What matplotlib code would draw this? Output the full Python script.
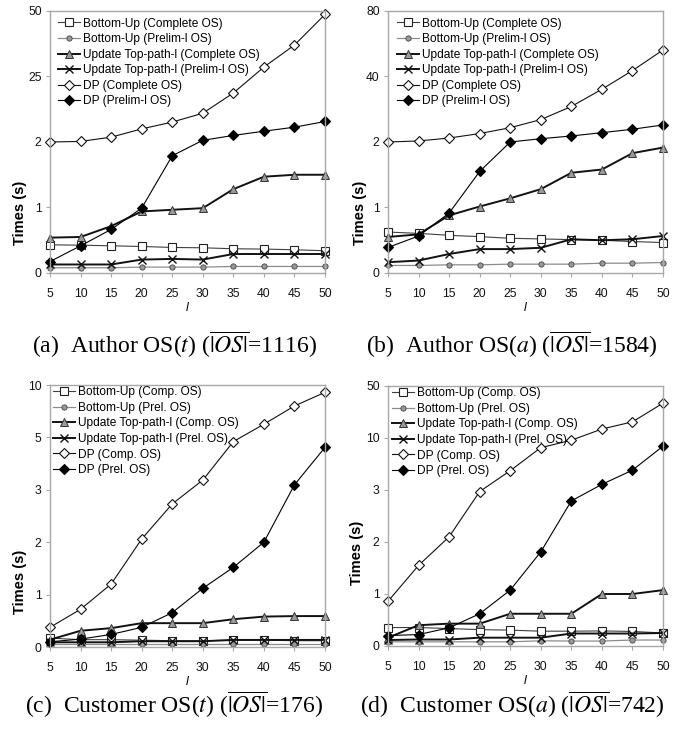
import numpy as np
import matplotlib
matplotlib.use("Agg")
import matplotlib.pyplot as plt  # noqa: E402
from matplotlib.ticker import NullLocator  # noqa: E402

plt.rcParams["font.family"] = ["Liberation Sans", "DejaVu Sans"]
plt.rcParams["mathtext.fontset"] = "stix"

L = [5, 10, 15, 20, 25, 30, 35, 40, 45, 50]

# (a) Author OS(t)
a_bu_comp = [0.43, 0.425, 0.415, 0.405, 0.39, 0.385, 0.37, 0.365, 0.355, 0.34]
a_bu_prel = [0.08, 0.08, 0.08, 0.09, 0.09, 0.09, 0.10, 0.10, 0.10, 0.10]
a_up_comp = [0.54, 0.55, 0.715, 0.94, 0.965, 0.99, 1.28, 1.47, 1.5, 1.5]
a_up_prel = [0.13, 0.13, 0.13, 0.205, 0.215, 0.205, 0.29, 0.29, 0.29, 0.29]
a_dp_comp = [2.0, 2.2, 3.7, 6.6, 9.0, 12.1, 19.2, 28.6, 37.0, 48.7]
a_dp_prel = [0.175, 0.415, 0.665, 0.99, 1.79, 2.6, 4.3, 5.8, 7.2, 9.2]

# (b) Author OS(a)
b_bu_comp = [0.625, 0.605, 0.575, 0.555, 0.53, 0.52, 0.51, 0.5, 0.48, 0.465]
b_bu_prel = [0.115, 0.115, 0.125, 0.125, 0.135, 0.135, 0.135, 0.15, 0.15, 0.16]
b_up_comp = [0.55, 0.59, 0.88, 1.015, 1.14, 1.28, 1.53, 1.58, 1.83, 1.915]
b_up_prel = [0.165, 0.19, 0.29, 0.365, 0.365, 0.385, 0.515, 0.5, 0.515, 0.565]
b_dp_comp = [2.0, 2.6, 4.3, 6.9, 10.3, 15.0, 22.6, 32.6, 43.6, 56.2]
b_dp_prel = [0.39, 0.565, 0.915, 1.55, 2.0, 3.9, 5.5, 7.4, 9.4, 11.9]

# (c) Customer OS(t)
c_bu_comp = [0.17, 0.14, 0.14, 0.13, 0.12, 0.12, 0.13, 0.13, 0.12, 0.12]
c_bu_prel = [0.05, 0.05, 0.05, 0.05, 0.05, 0.05, 0.05, 0.05, 0.05, 0.05]
c_up_comp = [0.14, 0.31, 0.36, 0.455, 0.455, 0.455, 0.53, 0.58, 0.59, 0.59]
c_up_prel = [0.09, 0.09, 0.09, 0.11, 0.11, 0.11, 0.135, 0.135, 0.135, 0.135]
c_dp_comp = [0.375, 0.72, 1.2, 2.06, 2.73, 3.37, 4.84, 6.26, 8.0, 9.3]
c_dp_prel = [0.1, 0.15, 0.24, 0.375, 0.655, 1.12, 1.52, 2.0, 3.19, 4.62]

# (d) Customer OS(a)
d_bu_comp = [0.355, 0.355, 0.335, 0.315, 0.305, 0.285, 0.285, 0.29, 0.28, 0.25]
d_bu_prel = [0.08, 0.08, 0.08, 0.08, 0.08, 0.1, 0.095, 0.095, 0.115, 0.115]
d_up_comp = [0.16, 0.4, 0.43, 0.43, 0.62, 0.62, 0.62, 1.0, 1.0, 1.075]
d_up_prel = [0.115, 0.125, 0.125, 0.16, 0.16, 0.16, 0.24, 0.24, 0.24, 0.25]
d_dp_comp = [0.86, 1.55, 2.1, 2.97, 5.6, 8.7, 9.7, 16.9, 22.4, 36.8]
d_dp_prel = [0.2, 0.22, 0.35, 0.62, 1.075, 1.81, 2.79, 3.76, 5.67, 8.9]

# y tick values (axes are drawn with equal spacing between ticks)
a_ticks = [0, 1, 2, 25, 50]
b_ticks = [0, 1, 2, 40, 80]
c_ticks = [0, 1, 2, 3, 5, 10]
d_ticks = [0, 1, 2, 3, 10, 50]

LABELS_LONG = ["Bottom-Up (Complete OS)", "Bottom-Up (Prelim-l OS)",
               "Update Top-path-l (Complete OS)", "Update Top-path-l (Prelim-l OS)",
               "DP (Complete OS)", "DP (Prelim-l OS)"]
LABELS_SHORT = ["Bottom-Up (Comp. OS)", "Bottom-Up (Prel. OS)",
                "Update Top-path-l (Comp. OS)", "Update Top-path-l (Prel. OS)",
                "DP (Comp. OS)", "DP (Prel. OS)"]

CAPTIONS = [r"(a)  Author OS($t$) ($\overline{|OS|}$=1116)",
            r"(b)  Author OS($a$) ($\overline{|OS|}$=1584)",
            r"(c)  Customer OS($t$) ($\overline{|OS|}$=176)",
            r"(d)  Customer OS($a$) ($\overline{|OS|}$=742)"]

STYLES = [
    dict(color="#404040", lw=0.8, marker="s", ms=6, mfc="white", mec="#222", mew=0.8),
    dict(color="#8c8c8c", lw=0.9, marker="o", ms=3.8, mfc="#999", mec="#444", mew=0.6),
    dict(color="#111", lw=1.4, marker="^", ms=6, mfc="#999", mec="#333", mew=0.7),
    dict(color="#111", lw=1.4, marker="x", ms=5.5, mec="#111", mew=1.0),
    dict(color="#111", lw=0.8, marker="D", ms=5, mfc="white", mec="#111", mew=0.8),
    dict(color="#000", lw=0.8, marker="D", ms=4.6, mfc="#000", mec="#000", mew=0.8),
]

FRAME = "#a8a8a8"
W, H = 691, 738


def piecewise_scale(ax, ticks):
    idx = np.arange(len(ticks), dtype=float)
    t = np.asarray(ticks, dtype=float)
    ax.set_yscale("function", functions=(lambda y: np.interp(y, t, idx),
                                          lambda u: np.interp(u, idx, t)))
    ax.set_ylim(0, ticks[-1])
    ax.set_yticks(ticks)
    ax.set_yticklabels([str(v) for v in ticks])
    ax.yaxis.set_minor_locator(NullLocator())


def panel(fig, rect, series, ticks, labels, leg_xy, ylab_xy, caption, cap_xy):
    ax = fig.add_axes(rect)
    piecewise_scale(ax, ticks)
    for ys, lab, st in zip(series, labels, STYLES):
        ax.plot(L, ys, label=lab, clip_on=False, **st)
    ax.set_xlim(5, 50)
    ax.set_xticks(L)
    for s in ax.spines.values():
        s.set_color(FRAME)
        s.set_linewidth(1.0)
    ax.tick_params(axis="both", colors=FRAME, labelcolor="#111", labelsize=8.7,
                   length=3, width=0.8, direction="out")
    ax.tick_params(axis="x", pad=8)
    ax.tick_params(axis="y", pad=3)
    ax.set_ylabel("Times (s)", fontsize=10.5, fontweight="bold")
    ax.yaxis.set_label_coords(*ylab_xy)
    ax.set_xlabel("l", fontsize=9, fontstyle="italic", labelpad=1)
    ax.legend(loc="upper left", bbox_to_anchor=leg_xy, frameon=False,
              fontsize=8.6, handlelength=1.8, handletextpad=0.25,
              labelspacing=0.3, borderpad=0, borderaxespad=0, numpoints=1)
    fig.text(cap_xy[0] / W, 1 - cap_xy[1] / H, caption, ha="center", va="center",
             fontsize=17, family=["Liberation Serif", "DejaVu Serif"])
    return ax


def rect(left, right, top, bottom):
    return [left / W, 1 - bottom / H, (right - left) / W, (bottom - top) / H]


def main():
    fig = plt.figure(figsize=(W / 100, H / 100), dpi=100)
    panel(fig, rect(50, 325, 11, 273),
          [a_bu_comp, a_bu_prel, a_up_comp, a_up_prel, a_dp_comp, a_dp_prel],
          a_ticks, LABELS_LONG, (0.03, 0.975), (-0.084, 0.23), CAPTIONS[0], (174, 345))
    panel(fig, rect(388, 663, 11, 273),
          [b_bu_comp, b_bu_prel, b_up_comp, b_up_prel, b_dp_comp, b_dp_prel],
          b_ticks, LABELS_LONG, (0.033, 0.975), (-0.076, 0.23), CAPTIONS[1], (512, 345))
    panel(fig, rect(50, 325, 385, 647),
          [c_bu_comp, c_bu_prel, c_up_comp, c_up_prel, c_dp_comp, c_dp_prel],
          c_ticks, LABELS_SHORT, (0.011, 0.995), (-0.084, 0.25), CAPTIONS[2], (174, 705))
    panel(fig, rect(388, 663, 386, 646),
          [d_bu_comp, d_bu_prel, d_up_comp, d_up_prel, d_dp_comp, d_dp_prel],
          d_ticks, LABELS_SHORT, (0.015, 0.995), (-0.087, 0.36), CAPTIONS[3], (512, 705))
    fig.savefig("out.png", dpi=100)


if __name__ == "__main__":
    main()
